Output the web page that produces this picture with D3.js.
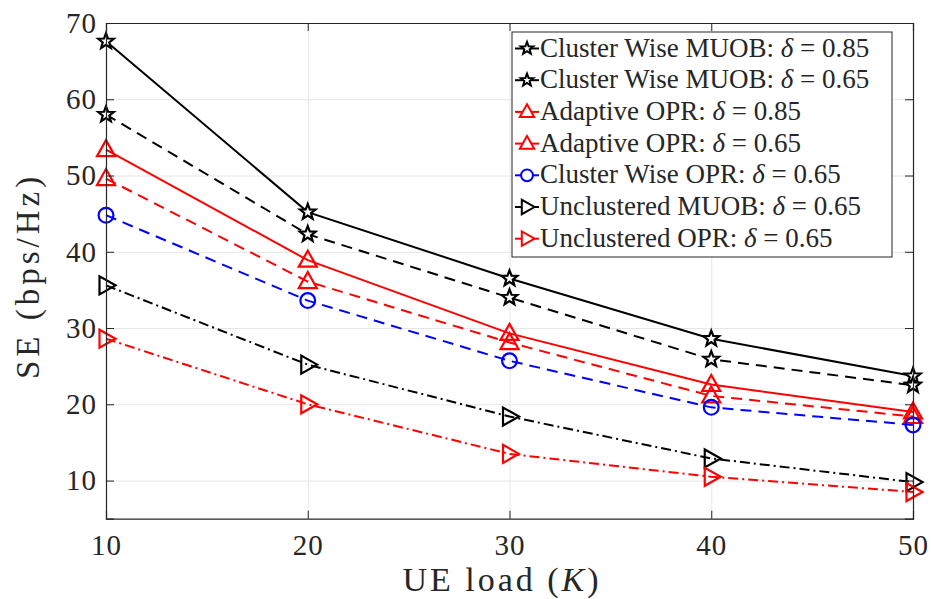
<!DOCTYPE html>
<html><head><meta charset="utf-8">
<script src="https://cdn.jsdelivr.net/npm/d3@7"></script>
<style>
body{margin:0;background:#fff}
svg{display:block}
svg text{font-family:'Liberation Serif','DejaVu Serif','Noto Serif','Tinos','FreeSerif','Times New Roman',Times,serif !important;fill:#262626}
</style>
</head><body>
<svg id="c" width="931" height="599"></svg>
<script>
// ---- data ----
const xValues = [10, 20, 30, 40, 50];
const cwMuob085 = [67.6, 45.2, 36.5, 28.6, 23.7];
const cwMuob065 = [58.0, 42.3, 34.0, 25.9, 22.5];
const adOpr085  = [53.4, 38.9, 29.3, 22.6, 19.0];
const adOpr065  = [49.6, 36.1, 28.1, 21.1, 18.4];
const cwOpr065  = [44.8, 33.6, 25.7, 19.6, 17.3];
const unMuob065 = [35.6, 25.2, 18.4, 12.9, 9.8];
const unOpr065  = [28.6, 20.0, 13.5, 10.5, 8.5];
const xTicks = [10, 20, 30, 40, 50];
const yTicks = [10, 20, 30, 40, 50, 60, 70];
const seriesNames = ["Cluster Wise MUOB", "Cluster Wise MUOB", "Adaptive OPR", "Adaptive OPR",
                     "Cluster Wise OPR", "Unclustered MUOB", "Unclustered OPR"];
const seriesDelta = ["0.85", "0.65", "0.85", "0.65", "0.65", "0.65", "0.65"];
const xLabel = "UE load";
const yLabel = "SE (bps/Hz)";

const seriesValues = [cwMuob085, cwMuob065, adOpr085, adOpr065, cwOpr065, unMuob065, unOpr065];
const seriesStyle = [
  {color:"#000000", dash:null,        marker:"star"},
  {color:"#000000", dash:"11,7",      marker:"star"},
  {color:"#ff0000", dash:null,        marker:"triUp"},
  {color:"#ff0000", dash:"11,7",      marker:"triUp"},
  {color:"#0000ff", dash:"11,7",      marker:"circle"},
  {color:"#000000", dash:"10,4,2,4",  marker:"triRight"},
  {color:"#ff0000", dash:"10,4,2,4",  marker:"triRight"}
];

// ---- layout ----
const L = 106, R = 913, T = 23, B = 518.7;
const svg = d3.select("#c");
const x = d3.scaleLinear().domain([10, 50]).range([L, R]);
const y = d3.scaleLinear().domain([5, 70]).range([B, T]);

// grid
const grid = svg.append("g");
grid.append("g").attr("transform", `translate(0,${B})`)
  .call(d3.axisBottom(x).tickValues(xTicks).tickSize(-(B - T)).tickFormat(""))
  .call(g => g.select(".domain").remove())
  .call(g => g.selectAll("line").attr("stroke", "#e6e6e6").attr("stroke-width", 1));
grid.append("g").attr("transform", `translate(${L},0)`)
  .call(d3.axisLeft(y).tickValues(yTicks).tickSize(-(R - L)).tickFormat(""))
  .call(g => g.select(".domain").remove())
  .call(g => g.selectAll("line").attr("stroke", "#e6e6e6").attr("stroke-width", 1));

// markers
function markerPath(type, s) {
  if (type === "star") {
    const ro = 8.2 * s, ri = ro * 0.42;
    const pts = [];
    for (let i = 0; i < 10; i++) {
      const r = i % 2 === 0 ? ro : ri;
      const a = -Math.PI / 2 + i * Math.PI / 5;
      pts.push([r * Math.cos(a), r * Math.sin(a)]);
    }
    return "M" + pts.map(p => p.join(",")).join("L") + "Z";
  }
  if (type === "triUp") {
    return `M0,${-9.5*s}L${9*s},${6.5*s}L${-9*s},${6.5*s}Z`;
  }
  if (type === "triRight") {
    return `M${9.5*s},0L${-6.5*s},${9*s}L${-6.5*s},${-9*s}Z`;
  }
  if (type === "circle") {
    const r = 7.4 * s;
    return `M${r},0A${r},${r} 0 1,1 ${-r},0A${r},${r} 0 1,1 ${r},0Z`;
  }
}

// lines
const line = d3.line().x((d, i) => x(xValues[i])).y(d => y(d));
const plot = svg.append("g");
seriesValues.forEach((vals, k) => {
  const st = seriesStyle[k];
  plot.append("path").datum(vals)
    .attr("d", line)
    .attr("fill", "none")
    .attr("stroke", st.color)
    .attr("stroke-width", 2)
    .attr("stroke-dasharray", st.dash);
});
seriesValues.forEach((vals, k) => {
  const st = seriesStyle[k];
  plot.append("g").selectAll("path").data(vals).join("path")
    .attr("transform", (d, i) => `translate(${x(xValues[i])},${y(d)})`)
    .attr("d", markerPath(st.marker, 1))
    .attr("fill", st.marker === "star" ? "#ffffff" : "none")
    .attr("stroke", st.color)
    .attr("stroke-width", 2.2)
    .attr("stroke-linejoin", "miter");
});

// axes box with inward ticks
const axCol = "#262626";
const ax = svg.append("g");
ax.append("g").attr("transform", `translate(0,${B})`)
  .call(d3.axisBottom(x).tickValues(xTicks).tickSize(-8).tickPadding(16).tickFormat(d3.format("d")))
  .call(g => g.select(".domain").attr("stroke", axCol))
  .call(g => g.selectAll("line").attr("stroke", axCol))
  .call(g => g.selectAll("text").attr("font-size", 29).attr("fill", axCol).attr("letter-spacing", 1));
ax.append("g").attr("transform", `translate(0,${T})`)
  .call(d3.axisTop(x).tickValues(xTicks).tickSize(-8).tickFormat(""))
  .call(g => g.select(".domain").attr("stroke", axCol))
  .call(g => g.selectAll("line").attr("stroke", axCol));
ax.append("g").attr("transform", `translate(${L},0)`)
  .call(d3.axisLeft(y).tickValues(yTicks).tickSize(-8).tickPadding(9).tickFormat(d3.format("d")))
  .call(g => g.select(".domain").attr("stroke", axCol))
  .call(g => g.selectAll("line").attr("stroke", axCol))
  .call(g => g.selectAll("text").attr("font-size", 29).attr("fill", axCol).attr("letter-spacing", 1));
ax.append("g").attr("transform", `translate(${R},0)`)
  .call(d3.axisRight(y).tickValues(yTicks).tickSize(-8).tickFormat(""))
  .call(g => g.select(".domain").attr("stroke", axCol))
  .call(g => g.selectAll("line").attr("stroke", axCol));
ax.selectAll(".domain").attr("stroke-width", 1.2);
ax.selectAll("g").attr("font-family", null);

// axis labels
const xl = svg.append("text").attr("x", 502).attr("y", 591)
  .attr("text-anchor", "middle").attr("font-size", 34).attr("letter-spacing", 3);
xl.append("tspan").text(xLabel + " (");
xl.append("tspan").attr("font-style", "italic").text("K");
xl.append("tspan").text(")");

svg.append("text").attr("transform", `translate(39,276) rotate(-90)`)
  .attr("text-anchor", "middle").attr("font-size", 33).attr("letter-spacing", 4).text(yLabel);

// legend
const lg = svg.append("g");
const lgX = 512, lgY = 32, lgW = 380, lgH = 225;
lg.append("rect").attr("x", lgX).attr("y", lgY).attr("width", lgW).attr("height", lgH)
  .attr("fill", "#fff").attr("stroke", axCol).attr("stroke-width", 1);
const rowH = 31.7;
const texts = [];
seriesNames.forEach((nm, k) => {
  const st = seriesStyle[k];
  const cy = lgY + 16.5 + k * rowH;
  lg.append("line").attr("x1", lgX + 3).attr("x2", lgX + 27).attr("y1", cy).attr("y2", cy)
    .attr("stroke", st.color).attr("stroke-width", 2);
  lg.append("path").attr("transform", `translate(${lgX + 15},${cy})`)
    .attr("d", markerPath(st.marker, 0.8))
    .attr("fill", "#ffffff")
    .attr("stroke", st.color).attr("stroke-width", 2);
  const t = lg.append("text").attr("x", lgX + 28).attr("y", cy + 8).attr("font-size", 24);
  t.append("tspan").text(nm + ": ");
  t.append("tspan").attr("font-style", "italic").text("δ");
  t.append("tspan").text(" = " + seriesDelta[k]);
  texts.push(t);
});
// fit legend font so the widest row fills the box like the original
const w0 = texts[0].node().getComputedTextLength();
const fs = Math.min(27, 24 * 347 / w0);
texts.forEach(t => t.attr("font-size", fs));
</script>
</body></html>
